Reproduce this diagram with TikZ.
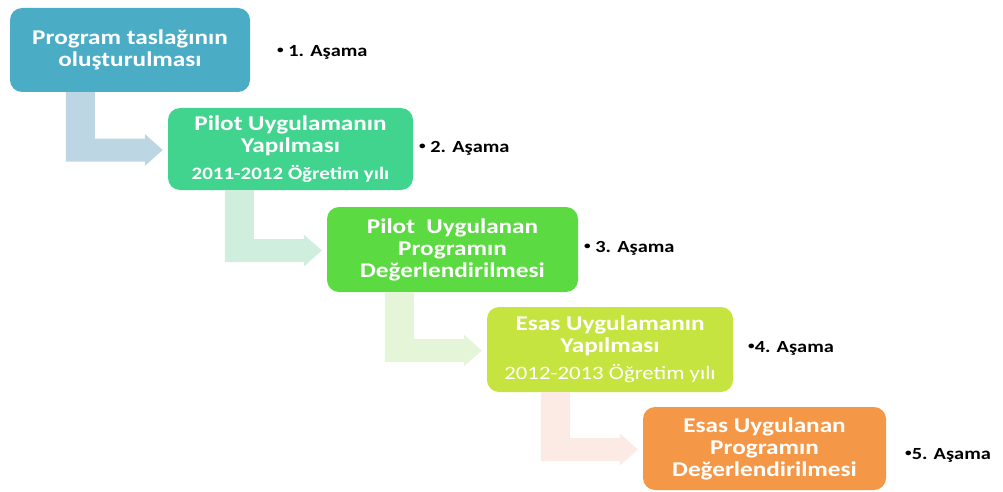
\documentclass[tikz,border=0pt]{standalone}
\usepackage{fontspec}
\setmainfont{Carlito}[FakeStretch=1.2]
\usetikzlibrary{calc}

\definecolor{boxA}{RGB}{75,172,198}
\definecolor{boxB}{RGB}{64,212,142}
\definecolor{boxC}{RGB}{92,218,66}
\definecolor{boxD}{RGB}{198,228,64}
\definecolor{boxE}{RGB}{244,152,72}
\definecolor{arrA}{RGB}{188,215,227}
\definecolor{arrB}{RGB}{208,238,222}
\definecolor{arrC}{RGB}{228,245,216}
\definecolor{arrE}{RGB}{252,234,229}

\newcommand\smallbullet{\raisebox{2.5pt}{\fontsize{11}{11}\selectfont•}}

\tikzset{
  stage/.style={fill=#1, draw=none, rounded corners=12pt, text=white,
    align=center, inner sep=0pt,
    font=\fontsize{21}{22}\selectfont\bfseries},
  phase/.style={anchor=west, inner sep=0pt, text=black,
    font=\fontsize{17}{18}\selectfont\bfseries}
}

% bent block arrow leaving the bottom of #1 and pointing at the left side of #2
\newcommand\bentarrow[3]{%
  \path (#2.west) ++(-5,1) coordinate (tip)
        ++(-18,0) coordinate (hb)
        (tip) ++(-97,0) coordinate (bl) ++(29,0) coordinate (br)
        (tip) ++(0,-11.5) coordinate (st) ++(0,23) coordinate (sb)
        (tip) ++(0,-16) coordinate (ht) ++(0,32) coordinate (hbt);
  \fill[#3] (#1.south -| bl) -- (#1.south -| br) -- (br |- st) -- (hb |- st)
    -- (hb |- ht) -- (tip) -- (hb |- hbt) -- (hb |- sb) -- (bl |- sb) -- cycle;
}

\begin{document}
\begin{tikzpicture}[x=1pt,y=-1pt]
  \useasboundingbox (0,0) rectangle (1003,492);

  % stage boxes
  \node[stage=boxA, minimum width=240pt, minimum height=84pt] (s1) at (130,50)
    {Program taslağının\\oluşturulması};
  \node[stage=boxB, minimum width=245pt, minimum height=82pt] (s2) at (290.5,149)
    {Pilot Uygulamanın\\Yapılması\\[5pt]{\fontsize{17.5}{18}\selectfont 2011-2012 Öğretim yılı}};
  \node[stage=boxC, minimum width=251pt, minimum height=85pt] (s3) at (452.5,249.5)
    {Pilot\ \ Uygulanan\\Programın\\Değerlendirilmesi};
  \node[stage=boxD, minimum width=246pt, minimum height=85pt] (s4) at (610,349.5)
    {Esas Uygulamanın\\Yapılması\\[5pt]{\fontsize{19}{18}\selectfont\mdseries 2012-2013 Öğretim yılı}};
  \node[stage=boxE, minimum width=243pt, minimum height=83pt] (s5) at (764.5,448.5)
    {Esas Uygulanan\\Programın\\Değerlendirilmesi};

  % connecting arrows
  \bentarrow{s1}{s2}{arrA}
  \bentarrow{s2}{s3}{arrB}
  \bentarrow{s3}{s4}{arrC}
  \bentarrow{s4}{s5}{arrE}

  % phase labels
  \node[phase] (p1) at (277,52) {\smallbullet\ 1. Aşama};
  \node[phase] (p2) at (419,148) {\smallbullet\ 2. Aşama};
  \node[phase] (p3) at (584,248) {\smallbullet\ 3. Aşama};
  \node[phase] (p4) at (748,348) {\smallbullet4. Aşama};
  \node[phase] (p5) at (905,455) {\smallbullet5. Aşama};
\end{tikzpicture}
\end{document}
